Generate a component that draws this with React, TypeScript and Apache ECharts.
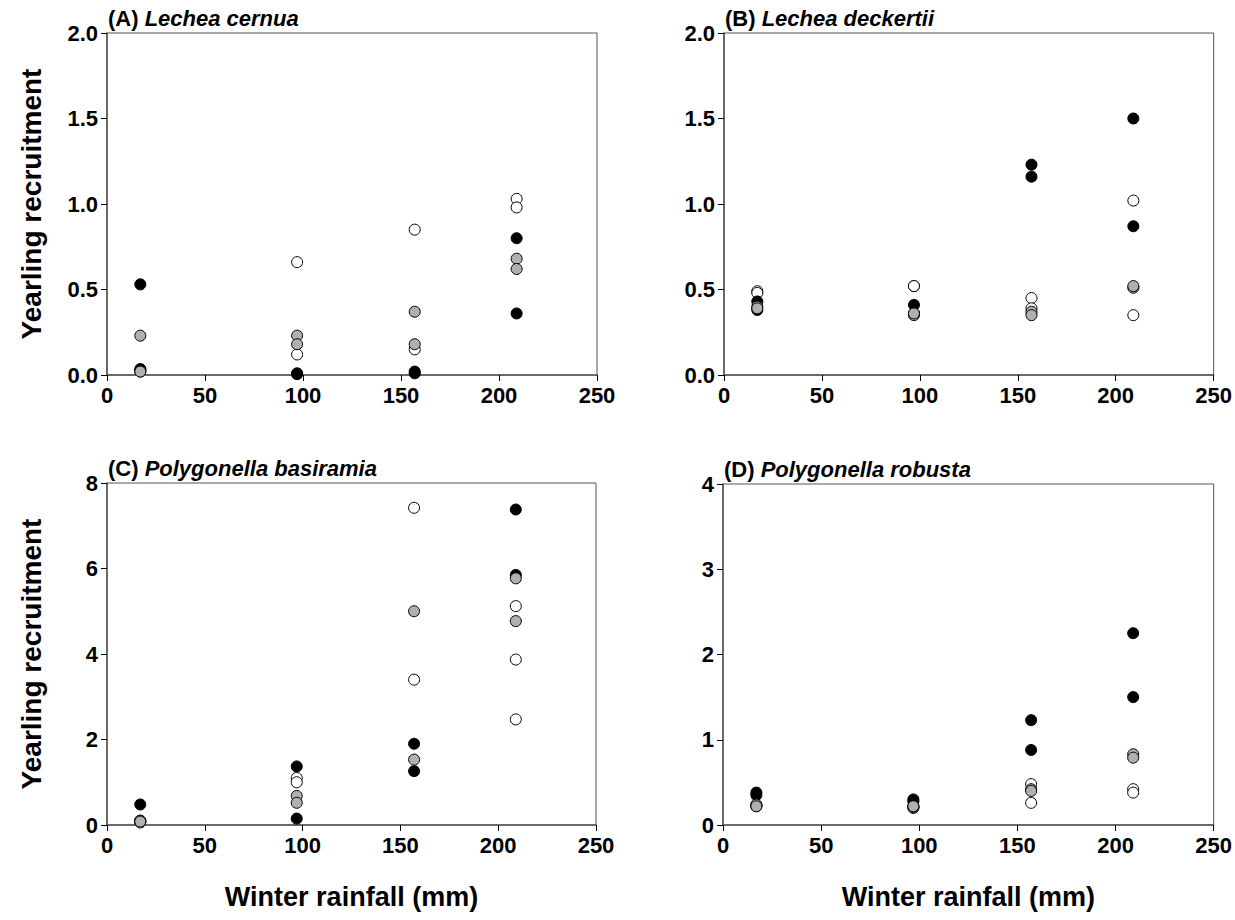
import React, { useEffect, useRef } from "react";
import * as echarts from "echarts";

const panelTitles = [
  ["(A) ", "Lechea cernua"],
  ["(B) ", "Lechea deckertii"],
  ["(C) ", "Polygonella basiramia"],
  ["(D) ", "Polygonella robusta"],
];
const xTicks = [0, 50, 100, 150, 200, 250];
const yMax = [2, 2, 8, 4];
const yStep = [0.5, 0.5, 2, 1];
const yDecimals = [1, 1, 0, 0];

// Panel A
const aWhite = [[17, 0.02], [17, 0.03], [97, 0.66], [97, 0.12], [157, 0.85], [157, 0.15], [209, 1.03], [209, 0.98]];
const aGray = [[17, 0.23], [17, 0.02], [97, 0.23], [97, 0.18], [157, 0.37], [157, 0.18], [209, 0.68], [209, 0.62]];
const aBlack = [[17, 0.53], [17, 0.035], [97, 0.01], [97, 0.005], [157, 0.02], [157, 0.01], [209, 0.8], [209, 0.36]];
// Panel B
const bWhite = [[17, 0.49], [17, 0.48], [97, 0.52], [97, 0.52], [157, 0.45], [157, 0.39], [209, 1.02], [209, 0.35]];
const bGray = [[17, 0.4], [17, 0.39], [97, 0.35], [97, 0.36], [157, 0.37], [157, 0.35], [209, 0.51], [209, 0.52]];
const bBlack = [[17, 0.43], [17, 0.38], [97, 0.41], [97, 0.36], [157, 1.23], [157, 1.16], [209, 1.5], [209, 0.87]];
// Panel C
const cWhite = [[17, 0.08], [17, 0.06], [97, 1.1], [97, 1.0], [157, 7.42], [157, 3.4], [209, 5.12], [209, 3.87], [209, 2.47]];
const cGray = [[17, 0.1], [17, 0.08], [97, 0.68], [97, 0.52], [157, 5.0], [157, 1.53], [209, 5.77], [209, 4.77]];
const cBlack = [[17, 0.48], [17, 0.1], [97, 1.37], [97, 0.15], [157, 1.9], [157, 1.26], [209, 7.38], [209, 5.85]];
// Panel D
const dWhite = [[17, 0.23], [17, 0.22], [97, 0.22], [97, 0.2], [157, 0.48], [157, 0.26], [209, 0.42], [209, 0.38]];
const dGray = [[17, 0.24], [17, 0.22], [97, 0.21], [97, 0.22], [157, 0.42], [157, 0.4], [209, 0.83], [209, 0.79]];
const dBlack = [[17, 0.38], [17, 0.35], [97, 0.3], [97, 0.28], [157, 1.23], [157, 0.88], [209, 2.25], [209, 1.5]];

const panelData = [
  [aWhite, aBlack, aGray],
  [bWhite, bBlack, bGray],
  [cWhite, cBlack, cGray],
  [dWhite, dBlack, dGray],
];
const fills = ["#ffffff", "#000000", "#b0b0b0"];

const grids = [
  { left: 107, top: 33, width: 490, height: 342 },
  { left: 724, top: 33, width: 492, height: 342 },
  { left: 107, top: 483, width: 489, height: 342 },
  { left: 723, top: 484, width: 492, height: 341 },
];

const FONT = "'Liberation Sans', Arial, sans-serif";

export default function App() {
  const ref = useRef<HTMLDivElement>(null);
  useEffect(() => {
    document.body.style.margin = "0";
    const chart = echarts.init(ref.current!, null, { renderer: "svg" });
    const series: any[] = [];
    panelData.forEach((sets, p) => {
      sets.forEach((d, k) => {
        series.push({
          type: "scatter",
          xAxisIndex: p,
          yAxisIndex: p,
          data: d,
          symbol: "circle",
          symbolSize: 11,
          itemStyle: { color: fills[k], borderColor: "#000", borderWidth: 1, opacity: 1 },
          z: 3 + k,
        });
      });
    });
    const option: any = {
      animation: false,
      backgroundColor: "#ffffff",
      textStyle: { fontFamily: FONT },
      title: panelTitles.map((t, i) => ({
        text: `{a|${t[0]}}{b|${t[1]}}`,
        left: grids[i].left + 1,
        top: grids[i].top - 26,
        padding: 0,
        textStyle: {
          rich: {
            a: { fontFamily: FONT, fontSize: 22, fontWeight: "bold", color: "#000" },
            b: { fontFamily: FONT, fontSize: 22, fontWeight: "bold", fontStyle: "italic", color: "#000" },
          },
        },
      })),
      grid: grids.map((g) => ({ ...g, show: true, borderColor: "#555", borderWidth: 1, containLabel: false })),
      xAxis: grids.map((_, i) => ({
        type: "value",
        gridIndex: i,
        min: xTicks[0],
        max: xTicks[xTicks.length - 1],
        interval: 50,
        name: i >= 2 ? "Winter rainfall (mm)" : "",
        nameLocation: "middle",
        nameGap: 58,
        nameTextStyle: { fontFamily: FONT, fontSize: 27, fontWeight: "bold", color: "#000" },
        axisLine: { show: true, lineStyle: { color: "#555", width: 1.5 } },
        axisTick: { show: true, inside: false, length: 6, lineStyle: { color: "#000", width: 1 } },
        axisLabel: { fontFamily: FONT, fontSize: 22, fontWeight: "bold", color: "#000", margin: 9 },
        splitLine: { show: false },
      })),
      yAxis: grids.map((_, i) => ({
        type: "value",
        gridIndex: i,
        min: 0,
        max: yMax[i],
        interval: yStep[i],
        name: i % 2 === 0 ? "Yearling recruitment" : "",
        nameLocation: "middle",
        nameGap: 62,
        nameTextStyle: { fontFamily: FONT, fontSize: 28, fontWeight: "bold", color: "#000" },
        axisLine: { show: true, lineStyle: { color: "#555", width: 1.5 } },
        axisTick: { show: true, inside: false, length: 6, lineStyle: { color: "#000", width: 1 } },
        axisLabel: {
          fontFamily: FONT,
          fontSize: 22,
          fontWeight: "bold",
          color: "#000",
          margin: 9,
          formatter: (v: number) => v.toFixed(yDecimals[i]),
        },
        splitLine: { show: false },
      })),
      series,
    };
    chart.setOption(option);
    return () => chart.dispose();
  }, []);
  return <div ref={ref} style={{ width: 1235, height: 920 }} />;
}
